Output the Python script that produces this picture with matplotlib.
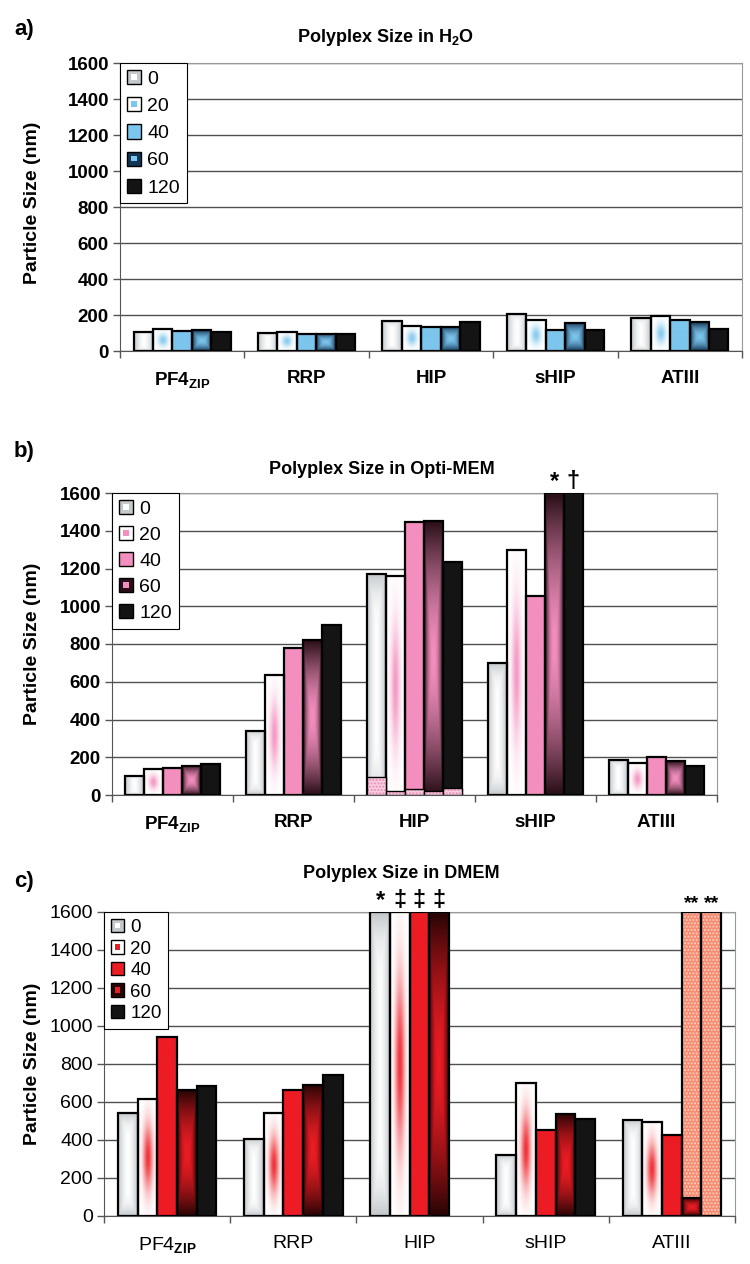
import numpy as np
import matplotlib
matplotlib.use("Agg")
import matplotlib.pyplot as plt
from matplotlib.patches import Rectangle
from matplotlib.legend_handler import HandlerBase

plt.rcParams['font.family'] = ['Liberation Sans', 'DejaVu Sans']
plt.rcParams['mathtext.fontset'] = 'custom'
plt.rcParams['mathtext.rm'] = 'Liberation Sans'
plt.rcParams['mathtext.bf'] = 'Liberation Sans:bold'

nan = np.nan
peptides = ['PF4$_\\mathbf{ZIP}$', 'RRP', 'HIP', 'sHIP', 'ATIII']
times = ['0', '20', '40', '60', '120']

# panel a: water
h2o = [
    [106, 100, 165, 206, 186],   # 0
    [121, 106, 139, 174, 193],   # 20
    [110, 93, 134, 115, 171],    # 40
    [115, 97, 134, 158, 161],    # 60
    [106, 97, 161, 115, 122],    # 120
]

# panel b: Opti-MEM (1600 = off scale)
optimem = [
    [103, 340, 1172, 700, 184],
    [136, 638, 1158, 1296, 168],
    [145, 780, 1445, 1052, 202],
    [154, 819, 1453, 1600, 180],
    [166, 902, 1236, 1600, 154],
]
# second, small population in HIP
optimem_small = [
    [nan, nan, 97, nan, nan],
    [nan, nan, 23, nan, nan],
    [nan, nan, 30, nan, nan],
    [nan, nan, 20, nan, nan],
    [nan, nan, 35, nan, nan],
]
optimem_marks = [(3, 3, '*'), (4, 3, '†')]

# panel c: DMEM
dmem = [
    [542, 406, 1600, 321, 506],
    [616, 540, 1600, 699, 494],
    [940, 665, 1600, 455, 427],
    [662, 690, 1600, 538, 93],
    [683, 744, nan, 512, nan],
]
# aggregated population (off scale)
dmem_large = [
    [nan, nan, nan, nan, nan],
    [nan, nan, nan, nan, nan],
    [nan, nan, nan, nan, nan],
    [nan, nan, nan, nan, 1600],
    [nan, nan, nan, nan, 1600],
]
dmem_marks = [(0, 2, '*'), (1, 2, '‡'), (2, 2, '‡'), (3, 2, '‡'), (3, 4, '**'), (4, 4, '**')]

W, H = 750, 1264
GRAY = np.array(matplotlib.colors.to_rgb('#c4c9cc'))
WHITE = np.array([1.0, 1.0, 1.0])
BLACK = '#141414'
styles = ['gray', 'spot', 'solid', 'dark', 'black']


def grad_img(style, color, dark, n=80, m=24):
    c = np.array(matplotlib.colors.to_rgb(color))
    d = np.array(matplotlib.colors.to_rgb(dark))
    u = np.linspace(0, 1, m)[None, :]
    v = np.linspace(0, 1, n)[:, None]
    dx = np.abs(u - 0.5) * 2
    dy = np.abs(v - 0.5) * 2
    if style == 'gray':
        t = np.clip(np.maximum(dx ** 1.4, dy ** 5), 0, 1)
        a, b = WHITE, GRAY
    elif style == 'spot':
        t = 0.9 * np.exp(-((u - 0.5) / 0.25) ** 2 - ((v - 0.5) / 0.28) ** 2)
        a, b = WHITE, c
    elif style == 'dark':
        t = np.clip(np.maximum(dx ** 2.2, dy ** 1.6), 0, 1)
        a, b = c, d
    else:
        t = np.zeros((n, m))
        a = b = c if style == 'solid' else np.array(matplotlib.colors.to_rgb(BLACK))
    return a * (1 - t[..., None]) + b * t[..., None]


def paint(ax, bars, style, color, dark):
    img = grad_img(style, color, dark)
    for r in bars:
        h = r.get_height()
        if not np.isfinite(h) or h <= 0:
            continue
        x0, y0 = r.get_xy()
        ax.imshow(img, extent=(x0, x0 + r.get_width(), y0, y0 + h), origin='lower',
                  aspect='auto', interpolation='bilinear', zorder=2)


class Swatch:
    def __init__(self, outer, inner=None):
        self.outer = outer
        self.inner = inner


class SwatchHandler(HandlerBase):
    def create_artists(self, legend, orig, xd, yd, width, height, fontsize, trans):
        s = height
        out = [Rectangle((-xd, -yd), s, s, fc=orig.outer, ec='black', lw=1.0, transform=trans)]
        if orig.inner is not None:
            k = s * 0.4
            out.append(Rectangle((-xd + (s - k) / 2, -yd + (s - k) / 2), k, k,
                                 fc=orig.inner, ec='none', transform=trans))
        return out


def make_axes(left, top, right, bottom):
    return fig.add_axes([left / W, 1 - bottom / H, (right - left) / W, (bottom - top) / H])


def panel(ax, data, color, dark, bold, tick_size, leg_size, spacing, small=None, large=None,
          marks=(), small_style=None, large_style=None):
    x = np.arange(len(peptides))
    bw = 0.78 / len(times)
    weight = 'bold' if bold else 'normal'
    bars_by_series = []
    for s, vals in enumerate(data):
        pos = x + (s - 2) * bw
        if large is not None:
            ax.bar(pos, large[s], bw, color=large_style[0], edgecolor=large_style[1],
                   hatch='.....', lw=0, zorder=2)
            ax.bar(pos, large[s], bw, facecolor='none', edgecolor='black', lw=1.6, zorder=3)
        bars = ax.bar(pos, vals, bw, facecolor='none', edgecolor='black', lw=1.6, zorder=3)
        paint(ax, bars, styles[s], color, dark)
        bars_by_series.append(bars)
        if small is not None:
            ax.bar(pos, small[s], bw, color=small_style[0], edgecolor=small_style[1],
                   hatch='.....', lw=0, zorder=4)
            ax.bar(pos, small[s], bw, facecolor='none', edgecolor='black', lw=1.0, zorder=4)
    for s, c, txt in marks:
        r = bars_by_series[s][c]
        ax.text(r.get_x() + r.get_width() / 2, 1600, txt, ha='center', va='bottom',
                fontsize=14 if len(txt) > 1 else 17, fontweight='bold', clip_on=False)

    ax.set_xlim(-0.5, len(peptides) - 0.5)
    ax.set_ylim(0, 1600)
    ax.set_yticks(np.arange(0, 1601, 200))
    ax.set_xticks(x)
    ax.set_xticklabels(peptides, fontsize=tick_size, fontweight=weight)
    ax.set_xticks(np.arange(-0.5, len(peptides), 1), minor=True)
    ax.tick_params(axis='x', which='major', length=0, pad=14)
    ax.tick_params(axis='x', which='minor', length=5, width=1, color='#555555')
    ax.tick_params(axis='y', length=5, width=1, color='#555555', pad=3, labelsize=tick_size)
    for lab in ax.get_yticklabels():
        lab.set_fontweight(weight)
    ax.yaxis.grid(True, color='#505050', lw=1.0, zorder=0)
    ax.set_axisbelow(True)
    for side in ('left', 'bottom'):
        ax.spines[side].set_color('#555555')
    for side in ('top', 'right'):
        ax.spines[side].set_color('#999999')

    handles = [Swatch('#c4c9cc', 'white'), Swatch('white', color), Swatch(color),
               Swatch(dark, color), Swatch(BLACK)]
    leg = ax.legend(handles, times, handler_map={Swatch: SwatchHandler()},
                    loc='upper left', bbox_to_anchor=(0, 1), borderaxespad=0,
                    fontsize=leg_size, handlelength=0.75, handleheight=0.75, handletextpad=0.3,
                    labelspacing=spacing, borderpad=0.35, fancybox=False, framealpha=1)
    leg.get_frame().set_edgecolor('black')
    leg.get_frame().set_linewidth(0.8)
    leg.set_zorder(6)


fig = plt.figure(figsize=(W / 100, H / 100), dpi=100)

ax_a = make_axes(120, 63, 742, 351)
panel(ax_a, h2o, '#7cc5ec', '#123554', True, 13.5, 14, 0.48)
ax_b = make_axes(112, 493, 717, 795)
panel(ax_b, optimem, '#f38fbe', '#2a0f18', True, 13.5, 14, 0.42, small=optimem_small,
      small_style=('#f9cde0', '#ef8cb8'), marks=optimem_marks)
ax_c = make_axes(104, 912, 735, 1216)
panel(ax_c, dmem, '#ec1c24', '#2a0505', False, 14, 13.5, 0.22, large=dmem_large,
      large_style=('#f78a6f', '#fbd0c0'), marks=dmem_marks)

titles = [('a)', 30, 'Polyplex Size in H$_\\mathbf{2}$O', 385, 38),
          ('b)', 452, 'Polyplex Size in Opti-MEM', 382, 470),
          ('c)', 882, 'Polyplex Size in DMEM', 401, 873)]
for letter, ly, title, tx, ty in titles:
    fig.text(14 / W, 1 - ly / H, letter, fontsize=16, fontweight='bold', va='center')
    fig.text(tx / W, 1 - ty / H, title, fontsize=13, fontweight='bold', ha='center', va='center')

for yc in (203, 644, 1064):
    fig.text(33 / W, 1 - yc / H, 'Particle Size (nm)', rotation=90, fontsize=14,
             fontweight='bold', ha='center', va='center')

fig.savefig('out.png', dpi=100)
